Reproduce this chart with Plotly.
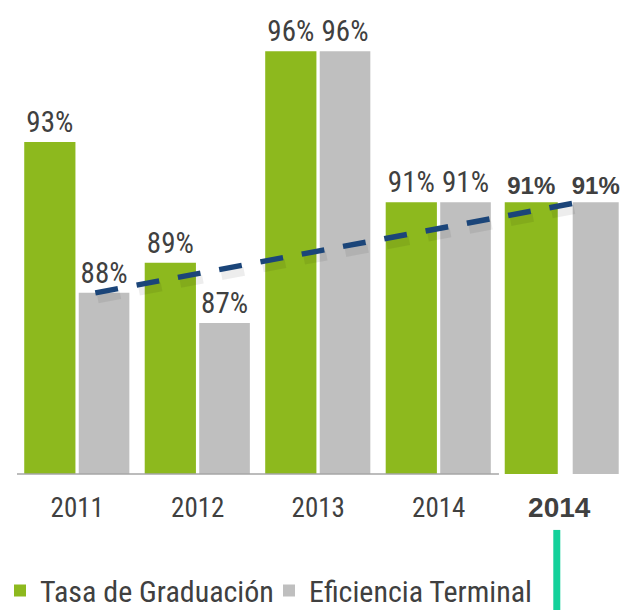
import plotly.graph_objects as go

# ---- data ----
years = ["2011", "2012", "2013", "2014", "2014"]
tasa_graduacion = [93, 89, 96, 91, 91]
eficiencia_terminal = [88, 87, 96, 91, 91]
trend_values = [88, 91]          # dashed trend line, start / end value
trend_positions = [0.15, 4.16]   # in category units
legend_names = ["Tasa de Graduación", "Eficiencia Terminal"]

# ---- style ----
GREEN = "#8DB91E"
GRAY = "#BFBFBF"
BLUE = "#1B4579"
TEAL = "#14D19B"
TXT = "#404040"
NARROW = "Roboto Condensed, Liberation Sans Narrow, Arial Narrow, sans-serif"
BOLD = "Liberation Sans, Arial, sans-serif"

n = len(years)
xs = list(range(n))
X_RANGE = [-0.5, 4.571]
Y_RANGE = [82, 97.7]
span = X_RANGE[1] - X_RANGE[0]


def paper_x(v):
    return (v - X_RANGE[0]) / span


def labels(vals):
    out = [f"{v}%" for v in vals]
    out[-1] = f"<b>{out[-1]}</b>"
    return out


fams = [NARROW] * (n - 1) + [BOLD]
sizes = [29] * (n - 1) + [24]

fig = go.Figure()
fig.add_trace(go.Bar(
    x=xs, y=tasa_graduacion, name=legend_names[0],
    marker=dict(color=GREEN, line=dict(width=0)),
    offset=[-0.44] * (n - 1) + [-0.452],
    width=[0.425] * (n - 1) + [0.44],
    text=labels(tasa_graduacion), textposition="outside",
    textfont=dict(family=fams, size=sizes, color=TXT),
    constraintext="none", cliponaxis=False, hoverinfo="skip",
))
fig.add_trace(go.Bar(
    x=xs, y=eficiencia_terminal, name=legend_names[1],
    marker=dict(color=GRAY, line=dict(width=0)),
    offset=[0.0125] * (n - 1) + [0.112],
    width=[0.42] * (n - 1) + [0.382],
    text=labels(eficiencia_terminal), textposition="outside",
    textfont=dict(family=fams, size=sizes, color=TXT),
    constraintext="none", cliponaxis=False, hoverinfo="skip",
))
# soft shadow of the trend line
fig.add_trace(go.Scatter(
    x=[p + 0.02 for p in trend_positions], y=[v - 0.2 for v in trend_values],
    mode="lines", line=dict(color="rgba(0,0,0,0.07)", width=9, dash="23px,19px"),
    showlegend=False, hoverinfo="skip",
))
fig.add_trace(go.Scatter(
    x=trend_positions, y=trend_values, mode="lines",
    line=dict(color=BLUE, width=5.5, dash="23px,19px"),
    showlegend=False, hoverinfo="skip",
))

ticktext = years[:-1] + [
    f"<span style='font-family:{BOLD};font-size:28px'><b>{years[-1]}</b></span>"
]

fig.update_layout(
    width=628, height=610,
    margin=dict(l=17, r=0, t=0, b=136, autoexpand=False),
    paper_bgcolor="white", plot_bgcolor="white",
    barmode="overlay",
    showlegend=True,
    legend=dict(
        orientation="h", x=-17 / 611, xanchor="left",
        y=-0.246, yanchor="middle",
        font=dict(family=NARROW, size=30, color=TXT),
        bgcolor="rgba(0,0,0,0)", traceorder="normal",
        entrywidth=224, entrywidthmode="pixels",
    ),
    xaxis=dict(
        range=X_RANGE, tickvals=xs, ticktext=ticktext,
        tickfont=dict(family=NARROW, size=27, color=TXT),
        showgrid=False, zeroline=False, showline=False, ticks="",
        ticklabelstandoff=15,
    ),
    yaxis=dict(range=Y_RANGE, visible=False, showgrid=False, zeroline=False),
    shapes=[
        dict(type="line", xref="paper", yref="paper",
             x0=paper_x(-0.5), x1=paper_x(3.5), y0=0, y1=0,
             line=dict(color="#A6A6A6", width=1.5)),
        dict(type="line", xref="paper", yref="paper",
             x0=paper_x(3.98), x1=paper_x(3.98), y0=-0.118, y1=-0.30,
             line=dict(color=TEAL, width=7)),
    ],
    hovermode=False,
)

fig.write_html("out.html", config={"displayModeBar": False},
               post_script="document.body.style.margin='0px';")
